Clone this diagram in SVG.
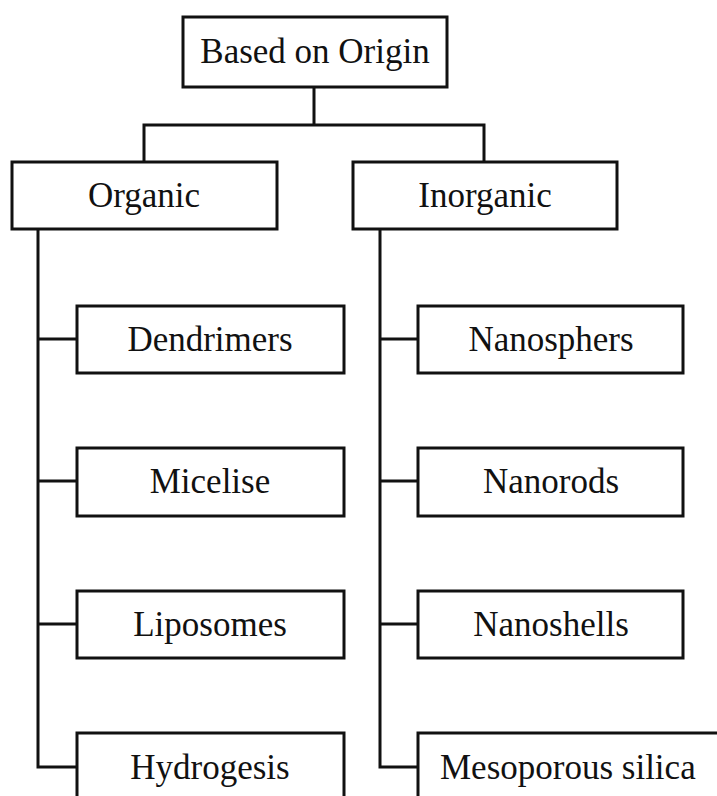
<svg xmlns="http://www.w3.org/2000/svg" width="717" height="796" viewBox="0 0 717 796">
<style>
.box{fill:#fff;stroke:#111;stroke-width:3}
.ln{fill:none;stroke:#111;stroke-width:3}
text{font-family:"Liberation Serif","Times New Roman",serif;font-size:35px;fill:#111;text-anchor:middle}
</style>
<rect width="717" height="796" fill="#fff"/>
<g id="connectors">
<path class="ln" d="M314 87 V125 M144 162 V125 H484 V162"/>
<path class="ln" d="M38 229 V767 H77 M38 339 H77 M38 481 H77 M38 624 H77"/>
<path class="ln" d="M380 229 V767 H418 M380 339 H418 M380 481 H418 M380 624 H418"/>
</g>
<g id="root"><rect class="box" x="183" y="17" width="264" height="70"/><text x="315" y="63">Based on Origin</text></g>
<g id="organic"><rect class="box" x="12" y="162" width="265" height="67"/><text x="144" y="207">Organic</text></g>
<g id="inorganic"><rect class="box" x="353" y="162" width="264" height="67"/><text x="485" y="207">Inorganic</text></g>
<g id="dendrimers"><rect class="box" x="77" y="306" width="267" height="67"/><text x="210" y="351">Dendrimers</text></g>
<g id="micelise"><rect class="box" x="77" y="448" width="267" height="68"/><text x="210" y="493">Micelise</text></g>
<g id="liposomes"><rect class="box" x="77" y="591" width="267" height="67"/><text x="210" y="636">Liposomes</text></g>
<g id="hydrogesis"><rect class="box" x="77" y="733" width="267" height="80"/><text x="210" y="779">Hydrogesis</text></g>
<g id="nanosphers"><rect class="box" x="418" y="306" width="265" height="67"/><text x="551" y="351">Nanosphers</text></g>
<g id="nanorods"><rect class="box" x="418" y="448" width="265" height="68"/><text x="551" y="493">Nanorods</text></g>
<g id="nanoshells"><rect class="box" x="418" y="591" width="265" height="67"/><text x="551" y="636">Nanoshells</text></g>
<g id="mesoporous"><rect class="box" x="418" y="733" width="310" height="80"/><text x="440" y="779" style="text-anchor:start">Mesoporous silica</text></g>
</svg>
